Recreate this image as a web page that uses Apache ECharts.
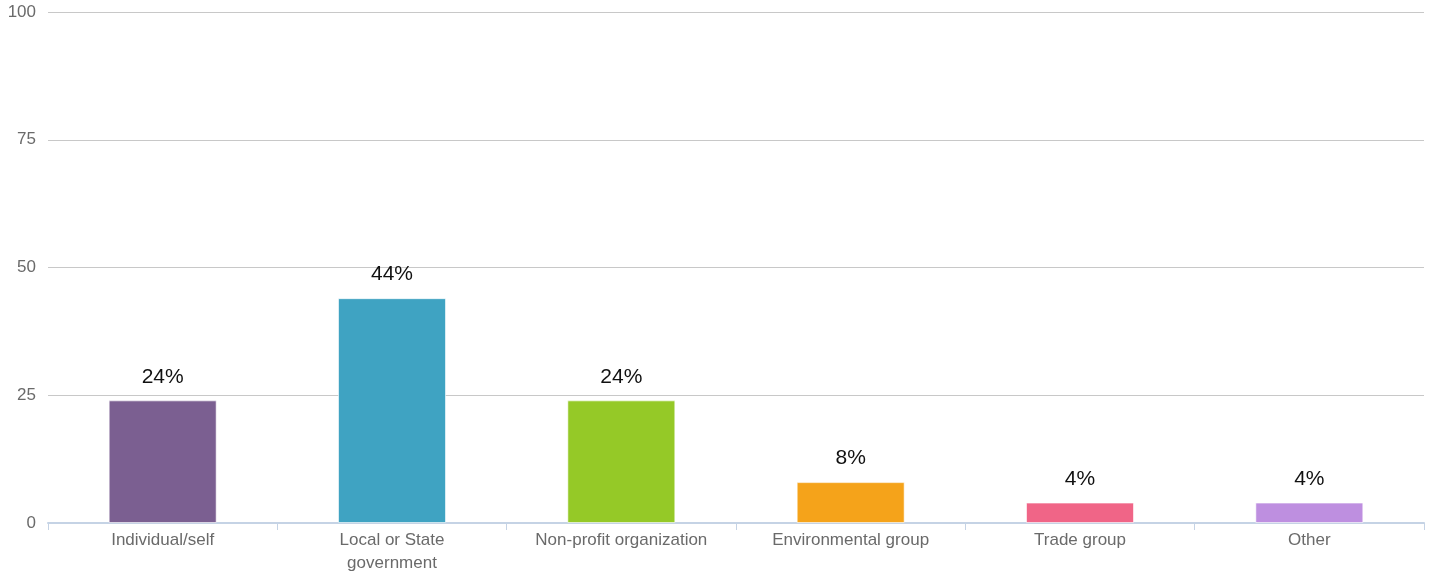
<!DOCTYPE html>
<html>
<head>
<meta charset="utf-8">
<script src="https://cdn.jsdelivr.net/npm/echarts@6/dist/echarts.min.js"></script>
<style>
html, body { margin: 0; padding: 0; background: #fff; overflow: hidden; }
#chart { width: 1434px; height: 575px; }
</style>
</head>
<body>
<div id="chart"></div>
<script>
// Survey responses by respondent type (percent)
const categories = ['Individual/self', 'Local or State\ngovernment', 'Non-profit organization', 'Environmental group', 'Trade group', 'Other'];
const values = [24, 44, 24, 8, 4, 4];
const barColors = ['#7b5f91', '#3fa3c2', '#95c927', '#f5a31a', '#f06587', '#be8fe0'];
const yTicks = [0, 25, 50, 75, 100];

const chart = echarts.init(document.getElementById('chart'), null, { renderer: 'canvas' });
chart.setOption({
  animation: false,
  textStyle: { fontFamily: 'Liberation Sans, Arial, sans-serif' },
  grid: { left: 48, right: 10, top: 12, bottom: 51, containLabel: false },
  xAxis: {
    type: 'category',
    data: categories,
    axisLine: { lineStyle: { color: '#c5d3e5', width: 2 } },
    axisTick: { show: true, length: 7, lineStyle: { color: '#c5d3e5', width: 1 } },
    axisLabel: { color: '#6a6a6a', fontSize: 17, margin: 6, lineHeight: 23, interval: 0 }
  },
  yAxis: {
    type: 'value',
    min: yTicks[0],
    max: yTicks[yTicks.length - 1],
    interval: 25,
    axisLine: { show: false },
    axisTick: { show: false },
    axisLabel: { color: '#6a6a6a', fontSize: 17, margin: 12 },
    splitLine: { lineStyle: { color: '#c8c8c8', width: 1 } }
  },
  series: [{
    type: 'bar',
    data: values.map((v, i) => ({ value: v, itemStyle: { color: barColors[i] } })),
    barWidth: 108,
    itemStyle: { borderColor: 'rgba(255,255,255,0.6)', borderWidth: 1 },
    label: {
      show: true,
      position: 'top',
      distance: 13,
      formatter: p => p.value + '%',
      color: '#111',
      fontSize: 21
    }
  }]
});
</script>
</body>
</html>
